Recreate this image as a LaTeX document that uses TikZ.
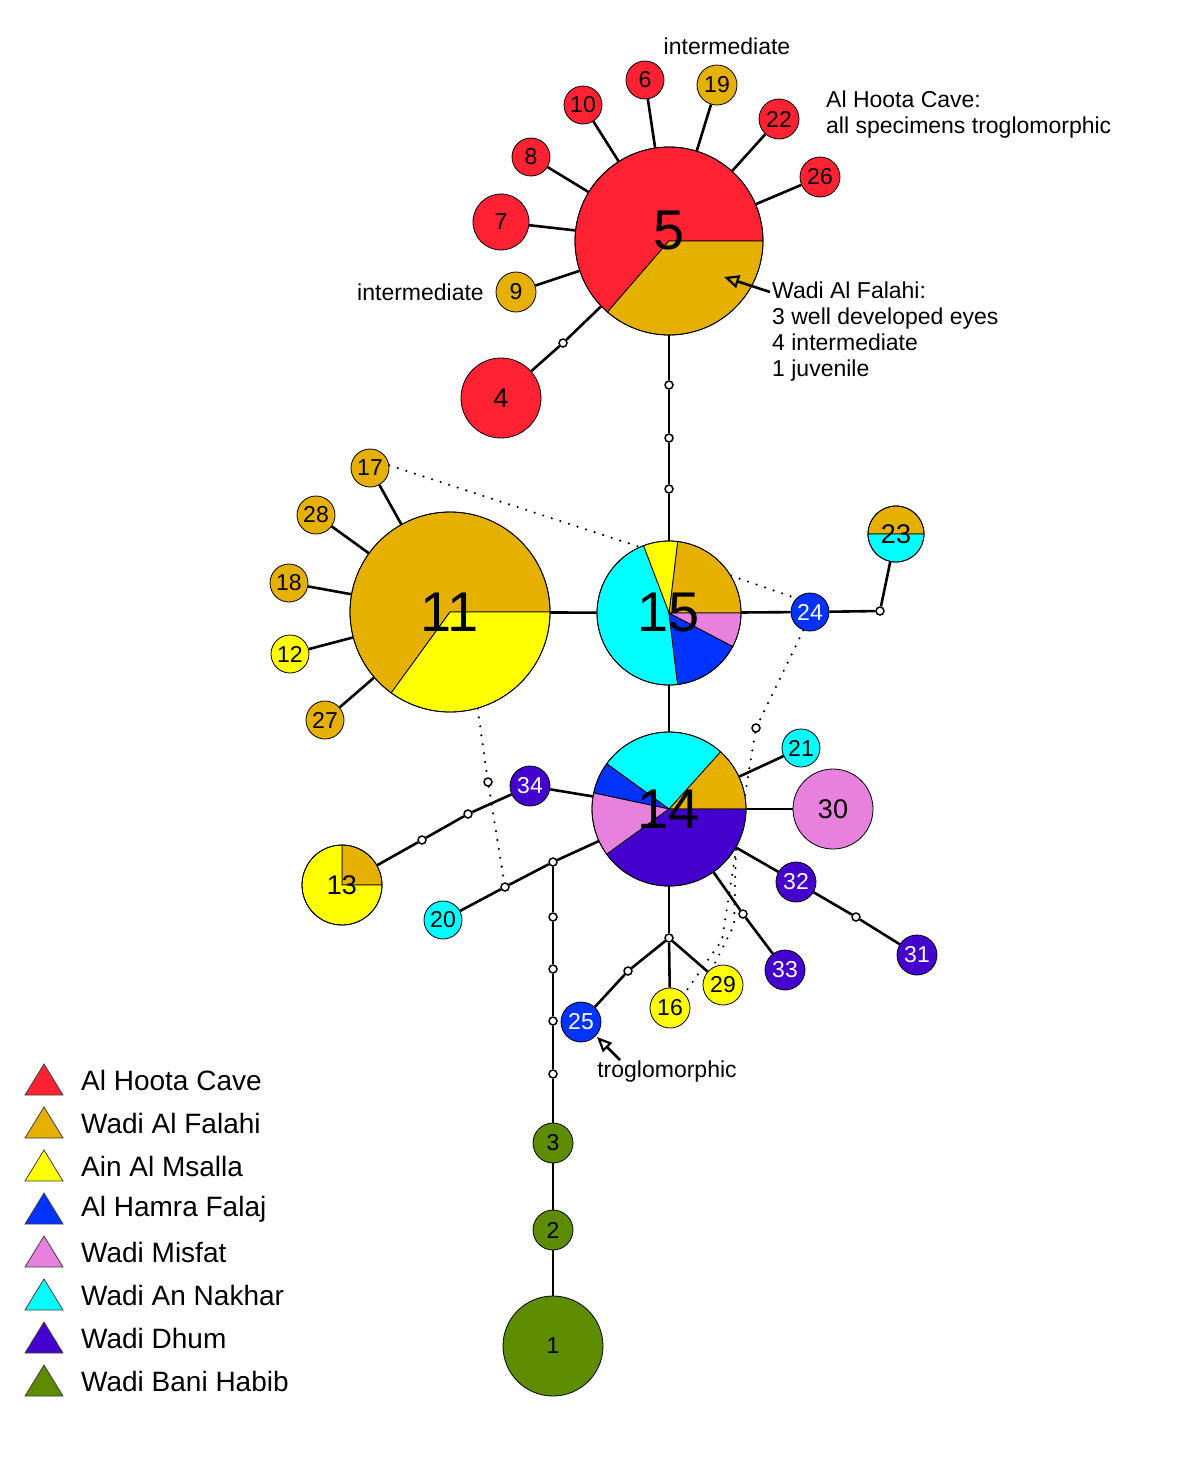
\documentclass[tikz,border=0pt]{standalone}
\usepackage{fontspec}
\setmainfont{Liberation Sans}
\usetikzlibrary{arrows.meta}
\pgfdeclarelayer{bg}
\pgfsetlayers{bg,main}
\definecolor{cRed}{RGB}{255,34,51}
\definecolor{cOch}{RGB}{230,176,0}
\definecolor{cYel}{RGB}{255,255,0}
\definecolor{cBlu}{RGB}{0,51,255}
\definecolor{cPnk}{RGB}{232,128,222}
\definecolor{cCya}{RGB}{0,255,255}
\definecolor{cDhu}{RGB}{68,0,204}
\definecolor{cGrn}{RGB}{94,140,0}
\newcommand\myfs[1]{\fontsize{#1}{#1}\selectfont}
\newcommand\pslice[5]{\filldraw[fill=#5, draw=black, line width=0.8pt] (#1) -- ++(-#3:#2) arc[start angle=-#3, end angle=-#4, radius=#2] -- cycle;}
\begin{document}
\begin{tikzpicture}[x=1pt,y=-1pt,
  hap/.style={circle, draw=black, line width=0.8pt, inner sep=0pt, font=\myfs{23}},
  bigl/.style={inner sep=0pt, font=\myfs{56}},
  mv/.style={circle, draw=black, fill=white, line width=1.5pt, inner sep=0pt, minimum size=8pt},
  conn/.style={line width=2.6pt},
  dotl/.style={line width=2.4pt, line cap=round, dash pattern=on 0pt off 9pt},
  ann/.style={inner sep=0pt, font=\myfs{23}, align=left},
  arr/.style={line width=2.6pt, -{Triangle[open, length=15pt, width=13pt, line width=2.2pt]}},
  wt/.style={text=white}]
\useasboundingbox (0,0) rectangle (1200,1467);

% ---- pies ----
\pslice{669,241}{94}{0}{229.1}{cRed}
\pslice{669,241}{94}{229.1}{360}{cOch}
\node[hap, minimum size=188pt] (n5) at (669,241) {};
\node[bigl] (t5) at (669,231) {5};

\pslice{669,613}{72}{0}{83.1}{cOch}
\pslice{669,613}{72}{83.1}{110.8}{cYel}
\pslice{669,613}{72}{110.8}{276.9}{cCya}
\pslice{669,613}{72}{276.9}{332.3}{cBlu}
\pslice{669,613}{72}{332.3}{360}{cPnk}
\node[hap, minimum size=144pt, font=\myfs{56}] (n15) at (669,613) {15};

\pslice{450,612}{100}{0}{234}{cOch}
\pslice{450,612}{100}{234}{360}{cYel}
\node[hap, minimum size=200pt, font=\myfs{56}] (n11) at (450,612) {11};

\pslice{669,809}{77}{0}{48}{cOch}
\pslice{669,809}{77}{48}{144}{cCya}
\pslice{669,809}{77}{144}{168}{cBlu}
\pslice{669,809}{77}{168}{216}{cPnk}
\pslice{669,809}{77}{216}{360}{cDhu}
\node[hap, minimum size=154pt, font=\myfs{56}] (n14) at (669,809) {14};

\pslice{342,885}{40}{0}{90}{cOch}
\pslice{342,885}{40}{90}{360}{cYel}
\node[hap, minimum size=80pt, font=\myfs{27}] (n13) at (342,885) {13};

\pslice{896,534}{28}{0}{180}{cOch}
\pslice{896,534}{28}{180}{360}{cCya}
\node[hap, minimum size=56pt, font=\myfs{27}] (n23) at (896,534) {23};

% ---- single-colour haplotypes ----
\node[hap, fill=cRed, minimum size=38pt] (n6) at (645,80) {6};
\node[hap, fill=cRed, minimum size=38pt] (n10) at (583,105) {10};
\node[hap, fill=cRed, minimum size=38pt] (n8) at (531,157) {8};
\node[hap, fill=cRed, minimum size=56pt] (n7) at (501,222) {7};
\node[hap, fill=cOch, minimum size=40pt] (n9) at (516,292) {9};
\node[hap, fill=cOch, minimum size=40pt] (n19) at (717,85) {19};
\node[hap, fill=cRed, minimum size=40pt] (n22) at (779,119) {22};
\node[hap, fill=cRed, minimum size=40pt] (n26) at (820,177) {26};
\node[hap, fill=cRed, minimum size=80pt, font=\myfs{27}] (n4) at (501,398) {4};

\node[hap, fill=cOch, minimum size=38pt] (n17) at (370,468) {17};
\node[hap, fill=cOch, minimum size=38pt] (n28) at (316,515) {28};
\node[hap, fill=cOch, minimum size=38pt] (n18) at (289,583) {18};
\node[hap, fill=cYel, minimum size=38pt] (n12) at (290,654) {12};
\node[hap, fill=cOch, minimum size=38pt] (n27) at (325,720) {27};

\node[hap, fill=cBlu, minimum size=38pt, wt] (n24) at (810,612) {24};
\node[hap, fill=cCya, minimum size=38pt] (n21) at (801,748) {21};
\node[hap, fill=cPnk, minimum size=80pt, font=\myfs{27}] (n30) at (833,809) {30};
\node[hap, fill=cDhu, minimum size=40pt, wt] (n32) at (796,882) {32};
\node[hap, fill=cDhu, minimum size=40pt, wt] (n31) at (917,955) {31};
\node[hap, fill=cDhu, minimum size=40pt, wt] (n33) at (785,970) {33};
\node[hap, fill=cYel, minimum size=40pt] (n16) at (670,1008) {16};
\node[hap, fill=cYel, minimum size=40pt] (n29) at (723,985) {29};
\node[hap, fill=cBlu, minimum size=40pt, wt] (n25) at (581,1022) {25};
\node[hap, fill=cDhu, minimum size=40pt, wt] (n34) at (530,786) {34};
\node[hap, fill=cCya, minimum size=38pt] (n20) at (443,920) {20};
\node[hap, fill=cGrn, minimum size=40pt] (n3) at (553,1143) {3};
\node[hap, fill=cGrn, minimum size=40pt] (n2) at (553,1230) {2};
\node[hap, fill=cGrn, minimum size=100pt] (n1) at (553,1346) {1};

% ---- median vectors ----
\node[mv] (m54) at (563,343) {};
\node[mv] (mA) at (669,385) {};
\node[mv] (mB) at (669,438) {};
\node[mv] (mC) at (669,489) {};
\node[mv] (m24) at (880,611) {};
\node[mv] (m32) at (856,917) {};
\node[mv] (m33) at (743,914) {};
\node[mv] (m14) at (669,938) {};
\node[mv] (m25) at (628,971) {};
\node[mv] (m13a) at (422,840) {};
\node[mv] (m13b) at (468,814) {};
\node[mv] (mdot) at (488,782) {};
\node[mv] (m20) at (505,887) {};
\node[mv] (m20b) at (553,862) {};
\node[mv] (v1) at (553,917) {};
\node[mv] (v2) at (553,969) {};
\node[mv] (v3) at (553,1021) {};
\node[mv] (v4) at (553,1074) {};
\node[mv] (mdot2) at (756,728) {};

% ---- connectors ----
\begin{pgfonlayer}{bg}
\foreach \t in {n6,n10,n8,n7,n9,n19,n22,n26} \draw[conn] (n5) -- (\t);
\draw[conn] (n5) -- (m54) -- (n4);
\draw[conn] (n5) -- (mA) -- (mB) -- (mC) -- (n15);
\foreach \t in {n17,n28,n18,n12,n27} \draw[conn] (n11) -- (\t);
\draw[conn] (n11) -- (n15);
\draw[conn] (n15) -- (n24) -- (m24) -- (n23);
\draw[conn] (n15) -- (n14);
\draw[conn] (n14) -- (n21);
\draw[conn] (n14) -- (n30);
\draw[conn] (n14) -- (n32) -- (m32) -- (n31);
\draw[conn] (n14) -- (m33) -- (n33);
\draw[conn] (n14) -- (m14);
\draw[conn] (m14) -- (n16);
\draw[conn] (m14) -- (n29);
\draw[conn] (m14) -- (m25) -- (n25);
\draw[conn] (n14) -- (n34) -- (m13b) -- (m13a) -- (n13);
\draw[conn] (n14) -- (m20b) -- (m20) -- (n20);
\draw[conn] (m20b) -- (v1) -- (v2) -- (v3) -- (v4) -- (n3) -- (n2) -- (n1);
% dotted alternative links
\draw[dotl] (n17.8) -- (n15.114);
\draw[dotl] (n15.31) -- (n24.135);
\draw[dotl] (n11.-74) -- (mdot) -- (m20);
\draw[dotl] (n24.-110) -- (mdot2) -- (736,850) -- (722,940) -- (n16.45);
\draw[dotl] (736,850) -- (734,925) -- (n29.120);
\end{pgfonlayer}

% ---- annotations ----
\node[ann] (i19) at (727,46) {intermediate};
\node[ann, anchor=east] (i9) at (484,292) {intermediate};
\node[ann, anchor=west] (hoota) at (826,115) {Al Hoota Cave:\\[3pt]all specimens troglomorphic};
\node[ann, anchor=west] (fal) at (772,332) {Wadi Al Falahi:\\[3pt]3 well developed eyes\\[3pt]4 intermediate\\[3pt]1 juvenile};
\coordinate (fa1) at (770,292);
\coordinate (fa2) at (724,277);
\draw[arr] (fa1) -- (fa2);
\node[ann] (trog) at (667,1072) {troglomorphic};
\coordinate (ta1) at (620,1060);
\coordinate (ta2) at (597,1037);
\draw[arr] (ta1) -- (ta2);

% ---- legend ----
\foreach \c/\t [count=\i from 0] in {cRed/Al Hoota Cave, cOch/Wadi Al Falahi, cYel/Ain Al Msalla, cBlu/Al Hamra Falaj, cPnk/Wadi Misfat, cCya/Wadi An Nakhar, cDhu/Wadi Dhum, cGrn/Wadi Bani Habib}{
  \pgfmathsetmacro\yy{1080+43*\i}
  \filldraw[fill=\c, draw=black!75, line width=0.8pt] (25,\yy+15) -- (63,\yy+15) -- (44,\yy-16) -- cycle;
  \node[anchor=west, inner sep=0pt, font=\myfs{28}] (leg\i) at (81,\yy) {\t};
}
\end{tikzpicture}
\end{document}
